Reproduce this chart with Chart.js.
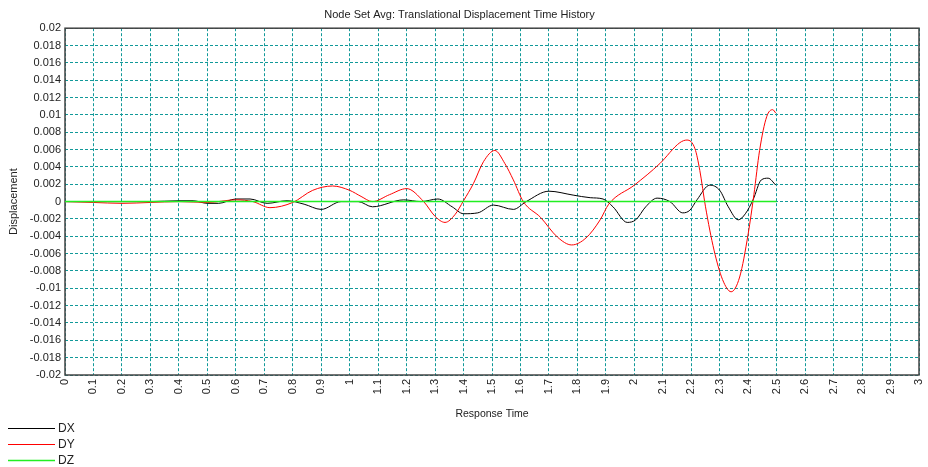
<!DOCTYPE html>
<html>
<head>
<meta charset="utf-8">
<title>Node Set Avg: Translational Displacement Time History</title>
<script src="https://cdn.jsdelivr.net/npm/chart.js@4"></script>
<style>
  html, body { margin: 0; padding: 0; background: #fff; }
  #wrap { width: 928px; height: 467px; }
</style>
</head>
<body>
<div id="wrap"><canvas id="chart" width="928" height="467"></canvas></div>
<script>
/* displacement time history */

const dxTimes = [0, 0.1, 0.2, 0.3, 0.4, 0.45, 0.5, 0.54, 0.6, 0.65, 0.71, 0.78, 0.84, 0.9, 0.97,
  1.03, 1.08, 1.19, 1.25, 1.31, 1.36, 1.4, 1.45, 1.505, 1.575, 1.62, 1.7, 1.785, 1.845, 1.89,
  1.925, 1.975, 2.005, 2.04, 2.08, 2.125, 2.17, 2.195, 2.22, 2.265, 2.3, 2.33, 2.365, 2.39,
  2.417, 2.446, 2.47, 2.497];
const dxValues = [0, 0, 0, 0, 0.0001, 0.0001, -0.0002, -0.0002, 0.0003, 0.0003, -0.0002, 0.0001, -0.0003, -0.0009, 0,
  0, -0.0006, 0.0002, 0, 0.0003, -0.0006, -0.0014, -0.0013, -0.0004, -0.0009, 0, 0.0012, 0.00075, 0.00045, 0.0003,
  -0.0006, -0.0024, -0.0021, -0.0006, 0.0004, 0, -0.0013, -0.001, 0.0002, 0.0019, 0.0013, -0.0006, -0.0021, -0.0014,
  0.0002, 0.0025, 0.0027, 0.0019];

const dyTimes = [0, 0.1, 0.2, 0.3, 0.4, 0.5, 0.6, 0.66, 0.72, 0.8, 0.87, 0.94, 1.0, 1.04, 1.08,
  1.14, 1.2, 1.26, 1.3, 1.335, 1.37, 1.4, 1.435, 1.47, 1.51, 1.545, 1.575, 1.61, 1.67, 1.73,
  1.78, 1.83, 1.88, 1.91, 2.0, 2.09, 2.16, 2.185, 2.213, 2.23, 2.25, 2.28, 2.31, 2.34, 2.37,
  2.4, 2.42, 2.44, 2.465, 2.486, 2.497];
const dyValues = [0, -0.0001, -0.0002, -0.0001, 0, -0.0001, 0.0002, 0, -0.0007, -0.0001, 0.0013, 0.0018, 0.0013, 0.0006, 0,
  0.0008, 0.0015, 0, -0.0017, -0.0024, -0.0015, 0.0001, 0.0021, 0.0046, 0.0059, 0.0044, 0.0025, 0, -0.0018, -0.0041,
  -0.005, -0.0042, -0.0021, -0.0003, 0.0019, 0.0044, 0.0068, 0.0071, 0.0061, 0.0036, -0.0006, -0.0056, -0.009, -0.0104, -0.0087,
  -0.0037, 0.0008, 0.0059, 0.0098, 0.0106, 0.0102];

const dzTimes = [0, 0.5, 1, 1.5, 2, 2.5];
const dzValues = [0, 0, 0, 0, 0, 0];

const seriesNames = ['DX', 'DY', 'DZ'];
const seriesColors = ['#000000', '#ff0000', '#22ee22'];

const xMin = 0, xMax = 3, xStep = 0.1;
const yMin = -0.02, yMax = 0.02, yStep = 0.002;

function points(times, values) {
  return times.map((t, i) => ({ x: t, y: values[i] }));
}

const FONT = "'Liberation Sans', Arial, sans-serif";
Chart.defaults.font.family = FONT;
Chart.defaults.color = '#222';

// box around the plot area
const framePlugin = {
  id: 'frame',
  beforeDatasetsDraw(chart) {
    const { ctx, chartArea: a } = chart;
    ctx.save();
    ctx.strokeStyle = '#444';
    ctx.lineWidth = 1.5;
    ctx.strokeRect(a.left, a.top, a.right - a.left, a.bottom - a.top);
    ctx.restore();
  }
};

// legend stacked under the x axis, bottom-left
const stackLegend = {
  id: 'stackLegend',
  afterDraw(chart) {
    const { ctx, chartArea } = chart;
    ctx.save();
    ctx.font = '12px ' + FONT;
    ctx.textBaseline = 'middle';
    chart.data.datasets.forEach((ds, i) => {
      const y = chartArea.bottom + 53.5 + i * 16;
      ctx.strokeStyle = ds.borderColor;
      ctx.lineWidth = ds.borderWidth;
      ctx.beginPath();
      ctx.moveTo(8, y);
      ctx.lineTo(55, y);
      ctx.stroke();
      ctx.fillStyle = '#222';
      ctx.fillText(ds.label, 58, y);
    });
    ctx.restore();
  }
};

const fmt = v => String(Number(v.toFixed(4)));

new Chart(document.getElementById('chart'), {
  type: 'line',
  data: {
    datasets: [
      { label: seriesNames[0], data: points(dxTimes, dxValues), borderColor: seriesColors[0], borderWidth: 1, order: 2 },
      { label: seriesNames[1], data: points(dyTimes, dyValues), borderColor: seriesColors[1], borderWidth: 1, order: 1 },
      { label: seriesNames[2], data: points(dzTimes, dzValues), borderColor: seriesColors[2], borderWidth: 1.5, order: 0 }
    ]
  },
  options: {
    responsive: false,
    animation: false,
    events: [],
    elements: {
      point: { radius: 0 },
      line: { cubicInterpolationMode: 'monotone', fill: false }
    },
    layout: { padding: { left: 0, right: 9, top: 0, bottom: 47 } },
    plugins: {
      legend: { display: false },
      tooltip: { enabled: false },
      title: {
        display: true,
        text: 'Node Set Avg: Translational Displacement Time History',
        font: { size: 11, weight: 'normal' },
        color: '#222',
        padding: { top: 8, bottom: 7 }
      }
    },
    scales: {
      x: {
        type: 'linear',
        min: xMin,
        max: xMax,
        afterFit(scale) {
          scale.height = 45;
          scale.paddingLeft = 0;
          scale.paddingRight = 0;
        },
        grid: { color: '#119999', lineWidth: 1, drawTicks: false },
        border: { display: false, dash: [3, 2] },
        ticks: {
          stepSize: xStep,
          autoSkip: false,
          minRotation: 90,
          maxRotation: 90,
          padding: 4,
          font: { size: 11 },
          color: '#222',
          callback: v => fmt(v)
        },
        title: {
          display: true,
          text: 'Response Time',
          font: { size: 10.5 },
          color: '#222',
          padding: { top: 0, bottom: 0 }
        }
      },
      y: {
        min: yMin,
        max: yMax,
        afterFit(scale) { scale.width = 65; },
        grid: { color: '#119999', lineWidth: 1, drawTicks: false },
        border: { display: false, dash: [3, 2] },
        ticks: {
          stepSize: yStep,
          autoSkip: false,
          padding: 4,
          font: { size: 11 },
          color: '#222',
          callback: v => fmt(v)
        },
        title: {
          display: true,
          text: 'Displacement',
          font: { size: 11 },
          color: '#222',
          padding: { top: 7, bottom: 0 }
        }
      }
    }
  },
  plugins: [framePlugin, stackLegend]
});
</script>
</body>
</html>
